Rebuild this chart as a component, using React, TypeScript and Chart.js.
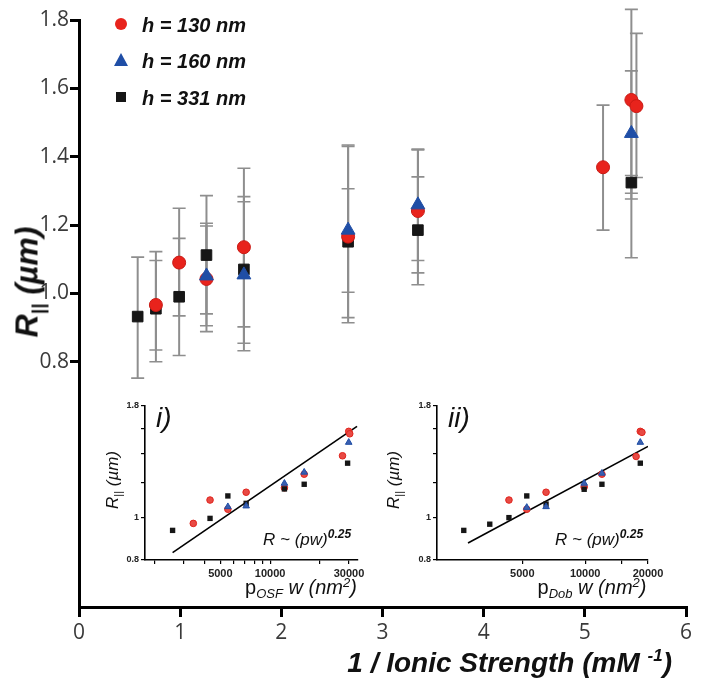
import React, { useEffect, useRef } from 'react';
import { Chart, registerables } from 'chart.js';
Chart.register(...registerables);

// ---------------- main panel data ----------------
const mainYTicks = [0.8, 1.0, 1.2, 1.4, 1.6, 1.8];

// h = 130 nm (red circles)
const x130 = [0.76, 0.99, 1.26, 1.63, 2.66, 3.35, 5.18, 5.46, 5.51];
const y130 = [0.966, 1.09, 1.042, 1.135, 1.166, 1.241, 1.369, 1.566, 1.548];
const hi130 = [1.122, 1.249, 1.197, 1.366, 1.306, 1.42, 1.551, 1.651, 1.761];
const lo130 = [0.8, 0.934, 0.888, 0.902, 1.003, 1.06, 1.185, 1.276, 1.339];

// h = 160 nm (blue triangles)
const x160 = [1.26, 1.63, 2.66, 3.35, 5.46];
const y160 = [1.051, 1.054, 1.185, 1.259, 1.468];
const hi160 = [1.205, 1.268, 1.434, 1.422, 1.831];
const lo160 = [0.905, 0.832, 0.929, 1.096, 1.104];

// h = 331 nm (black squares)
const x331 = [0.58, 0.76, 0.99, 1.26, 1.63, 2.66, 3.35, 5.46];
const y331 = [0.932, 0.955, 0.99, 1.112, 1.07, 1.151, 1.185, 1.324];
const hi331 = [1.106, 1.096, 1.161, 1.286, 1.283, 1.43, 1.341, 1.345];
const lo331 = [0.752, 0.834, 0.818, 0.94, 0.854, 0.914, 1.025, 1.293];

// ---------------- inset i) p_OSF w ----------------
const osfTicks = [2000, 3000, 4000, 5000, 6000, 7000, 8000, 9000, 10000, 20000, 30000];
const osfLabels = [5000, 10000, 30000];
const osfX130 = [3430, 4330, 5550, 7160, 12200, 16070, 27400, 29880, 30300];
const osfY130 = [0.97, 1.097, 1.045, 1.143, 1.17, 1.257, 1.385, 1.575, 1.555];
const osfX160 = [5550, 7160, 12200, 16070, 29880];
const osfY160 = [1.059, 1.063, 1.198, 1.27, 1.486];
const osfX331 = [2570, 4330, 5550, 7160, 12200, 16070, 29420];
const osfY331 = [0.935, 0.996, 1.121, 1.078, 1.163, 1.192, 1.332];
const osfFitX = [2570, 33540];
const osfFitY = [0.832, 1.617];

// ---------------- inset ii) p_Dob w ----------------
const dobTicks = [5000, 10000, 15000, 20000];
const dobLabels = [5000, 10000, 20000];
const dobX130 = [4313, 5250, 6495, 9890, 12030, 17540, 18370, 18700];
const dobY130 = [1.097, 1.045, 1.143, 1.175, 1.257, 1.38, 1.575, 1.567];
const dobX160 = [5250, 6495, 9890, 12030, 18370];
const dobY160 = [1.055, 1.059, 1.198, 1.263, 1.486];
const dobX331 = [2620, 3490, 4313, 5250, 6495, 9890, 12030, 18370];
const dobY331 = [0.935, 0.966, 1.0, 1.121, 1.074, 1.161, 1.192, 1.332];
const dobFitX = [2746, 20000];
const dobFitY = [0.875, 1.455];

const insetYTicks = [0.8, 1, 1.2, 1.4, 1.6, 1.8];
const insetYLabels = [0.8, 1, 1.8];

const RED = '#e8231c';
const BLUE = '#1f4ea6';
const BLACK = '#161616';
const SANS = '"Liberation Sans", Arial, sans-serif';

const pts = (xs: number[], ys: number[], lo?: number[], hi?: number[]) =>
  xs.map((x, i) => ({ x, y: ys[i], lo: lo ? lo[i] : undefined, hi: hi ? hi[i] : undefined }));

const errorBarPlugin = {
  id: 'errorBars',
  beforeDatasetsDraw(chart: any) {
    const { ctx, scales } = chart;
    const xs = scales.x, ys = scales.y;
    ctx.save();
    ctx.strokeStyle = '#8e8e8e';
    chart.data.datasets.forEach((ds: any) => {
      ds.data.forEach((p: any) => {
        if (p.lo === undefined) return;
        const px = xs.getPixelForValue(p.x);
        const pt = ys.getPixelForValue(p.hi);
        const pb = ys.getPixelForValue(p.lo);
        ctx.lineWidth = 2;
        ctx.beginPath();
        ctx.moveTo(px, pt);
        ctx.lineTo(px, pb);
        ctx.stroke();
        ctx.lineWidth = 1.6;
        ctx.beginPath();
        ctx.moveTo(px - 6.5, pt);
        ctx.lineTo(px + 6.5, pt);
        ctx.moveTo(px - 6.5, pb);
        ctx.lineTo(px + 6.5, pb);
        ctx.stroke();
      });
    });
    ctx.restore();
  },
};

function makeMain(): any {
  return {
    type: 'scatter',
    data: {
      datasets: [
        {
          label: 'h = 130 nm',
          data: pts(x130, y130, lo130, hi130),
          pointStyle: 'circle',
          pointRadius: 6.5,
          backgroundColor: RED,
          borderColor: '#c91a14',
          borderWidth: 1,
          order: 1,
        },
        {
          label: 'h = 160 nm',
          data: pts(x160, y160, lo160, hi160),
          pointStyle: 'triangle',
          pointRadius: 8,
          backgroundColor: BLUE,
          borderColor: BLUE,
          borderWidth: 1,
          order: 0,
        },
        {
          label: 'h = 331 nm',
          data: pts(x331, y331, lo331, hi331),
          pointStyle: 'rect',
          pointRadius: 7.5,
          backgroundColor: BLACK,
          borderColor: BLACK,
          borderWidth: 1,
          order: 2,
        },
      ],
    },
    options: {
      responsive: false,
      animation: false,
      layout: { padding: { left: 0, right: 17, top: 20, bottom: 0 } },
      plugins: { legend: { display: false }, tooltip: { enabled: false } },
      scales: {
        x: {
          type: 'linear',
          min: 0,
          max: 6,
          afterFit: (s: any) => { s.height = 87; },
          ticks: { stepSize: 1, color: '#3a3a3a', font: { family: '"Open Sans"', size: 21 }, padding: 3 },
          grid: { drawOnChartArea: false, drawTicks: true, tickLength: 10, color: '#000', lineWidth: 3 },
          border: { color: '#000', width: 3 },
        },
        y: {
          type: 'linear',
          min: 0.082,
          max: 1.8,
          afterFit: (s: any) => { s.width = 79; },
          afterBuildTicks: (a: any) => { a.ticks = mainYTicks.map((v) => ({ value: v })); },
          ticks: {
            color: '#3a3a3a',
            font: { family: '"Open Sans"', size: 21 },
            padding: 1,
            callback: (v: any) => Number(v).toFixed(1),
          },
          grid: { drawOnChartArea: false, drawTicks: true, tickLength: 9, color: '#000', lineWidth: 3 },
          border: { color: '#000', width: 3 },
        },
      },
    },
    plugins: [errorBarPlugin],
  };
}

function makeInset(
  xMin: number, xMax: number, xTicks: number[], xLabels: number[],
  d130: any[], d160: any[], d331: any[], fit: any[], padRight: number,
): any {
  return {
    type: 'scatter',
    data: {
      datasets: [
        {
          data: fit,
          showLine: true,
          pointRadius: 0,
          borderColor: '#000',
          borderWidth: 1.6,
          order: 3,
        },
        {
          data: d130,
          pointStyle: 'circle',
          pointRadius: 3.3,
          backgroundColor: '#e84a44',
          borderColor: '#e0231c',
          borderWidth: 1,
          order: 2,
        },
        {
          data: d331,
          pointStyle: 'rect',
          pointRadius: 3.8,
          backgroundColor: BLACK,
          borderColor: BLACK,
          borderWidth: 0,
          order: 1,
        },
        {
          data: d160,
          pointStyle: 'triangle',
          pointRadius: 3.8,
          backgroundColor: '#3a5fb0',
          borderColor: '#1f4ea6',
          borderWidth: 1,
          order: 0,
        },
      ],
    },
    options: {
      responsive: false,
      animation: false,
      layout: { padding: { left: 0, right: padRight, top: 10, bottom: 0 } },
      plugins: { legend: { display: false }, tooltip: { enabled: false } },
      scales: {
        x: {
          type: 'logarithmic',
          min: xMin,
          max: xMax,
          afterFit: (s: any) => { s.height = 26; },
          afterBuildTicks: (a: any) => { a.ticks = xTicks.map((v) => ({ value: v })); },
          ticks: {
            color: '#222',
            font: { family: SANS, size: 11, weight: 'bold' },
            padding: 3,
            maxRotation: 0,
            autoSkip: false,
            callback: (v: any) => (xLabels.includes(Number(v)) ? String(v) : ''),
          },
          grid: { drawOnChartArea: false, drawTicks: true, tickLength: 4, color: '#000', lineWidth: 1.2 },
          border: { color: '#000', width: 1.6 },
        },
        y: {
          type: 'logarithmic',
          min: 0.8,
          max: 1.8,
          afterFit: (s: any) => { s.width = 45; },
          afterBuildTicks: (a: any) => { a.ticks = insetYTicks.map((v) => ({ value: v })); },
          ticks: {
            color: '#222',
            font: { family: SANS, size: 9, weight: 'bold' },
            padding: 2,
            autoSkip: false,
            callback: (v: any) => (insetYLabels.includes(Number(v)) ? String(v) : ''),
          },
          grid: { drawOnChartArea: false, drawTicks: true, tickLength: 4, color: '#000', lineWidth: 1.2 },
          border: { color: '#000', width: 1.6 },
        },
      },
    },
  };
}

function ChartCanvas(props: { make: () => any; left: number; top: number; width: number; height: number }) {
  const ref = useRef<HTMLCanvasElement>(null);
  useEffect(() => {
    const chart = new Chart(ref.current as HTMLCanvasElement, props.make());
    return () => chart.destroy();
  }, []);
  return (
    <canvas
      ref={ref}
      width={props.width}
      height={props.height}
      style={{ position: 'absolute', left: props.left, top: props.top, width: props.width, height: props.height }}
    />
  );
}

const abs = (o: any) => ({ position: 'absolute' as const, whiteSpace: 'nowrap' as const, lineHeight: 1, ...o });

function LegendRow(props: { y: number; kind: string; label: string }) {
  let marker: any;
  if (props.kind === 'circle') {
    marker = <div style={abs({ left: 115, top: props.y - 6, width: 12, height: 12, borderRadius: '50%', background: RED })} />;
  } else if (props.kind === 'triangle') {
    marker = (
      <div
        style={abs({
          left: 114, top: props.y - 7, width: 0, height: 0,
          borderLeft: '7px solid transparent', borderRight: '7px solid transparent', borderBottom: '13px solid ' + BLUE,
        })}
      />
    );
  } else {
    marker = <div style={abs({ left: 116, top: props.y - 5, width: 10, height: 10, background: BLACK })} />;
  }
  return (
    <>
      {marker}
      <div style={abs({ left: 142, top: props.y - 10, font: `italic bold 20px ${SANS}`, color: '#111' })}>{props.label}</div>
    </>
  );
}

function InsetText(props: { ox: number; roman: string; sub: string; yTitleX: number; xTitleX: number }) {
  const { ox } = props;
  return (
    <>
      <div style={abs({ left: ox + 11, top: 402, font: `italic 28px ${SANS}`, color: '#111' })}>{props.roman}</div>
      <div style={abs({ left: ox + 118, top: 530, font: `italic 17px ${SANS}`, color: '#111' })}>
        R ~ (pw)<span style={{ fontSize: 12, fontWeight: 'bold', position: 'relative', top: -7 }}>0.25</span>
      </div>
      <div
        style={abs({
          left: props.yTitleX, top: 480, transform: 'translate(-50%,-50%) rotate(-90deg)',
          font: `italic 17px ${SANS}`, color: '#111',
        })}
      >
        R<span style={{ fontSize: 11, position: 'relative', top: 4, fontStyle: 'normal' }}>||</span> (µm)
      </div>
      <div
        style={abs({
          left: props.xTitleX, top: 587, transform: 'translate(-50%,-50%)',
          font: `20px ${SANS}`, color: '#111',
        })}
      >
        p<span style={{ fontSize: 13, fontStyle: 'italic', position: 'relative', top: 4 }}>{props.sub}</span>
        <span style={{ fontStyle: 'italic' }}> w (nm<span style={{ fontSize: 13, position: 'relative', top: -7 }}>2</span>)</span>
      </div>
    </>
  );
}

export default function App() {
  return (
    <div style={{ position: 'absolute', left: 0, top: 0, width: 703, height: 694, background: '#fff', overflow: 'hidden' }}>
      <ChartCanvas make={makeMain} left={0} top={0} width={703} height={694} />
      <ChartCanvas
        make={() => makeInset(1750, 34000, osfTicks, osfLabels,
          pts(osfX130, osfY130), pts(osfX160, osfY160), pts(osfX331, osfY331), pts(osfFitX, osfFitY), 12)}
        left={100} top={396} width={270} height={190}
      />
      <ChartCanvas
        make={() => makeInset(1950, 20000, dobTicks, dobLabels,
          pts(dobX130, dobY130), pts(dobX160, dobY160), pts(dobX331, dobY331), pts(dobFitX, dobFitY), 22)}
        left={392} top={396} width={278} height={190}
      />

      <LegendRow y={24} kind="circle" label="h = 130 nm" />
      <LegendRow y={60} kind="triangle" label="h = 160 nm" />
      <LegendRow y={97} kind="rect" label="h = 331 nm" />

      <InsetText ox={145} roman="i)" sub="OSF" yTitleX={113} xTitleX={301} />
      <InsetText ox={437} roman="ii)" sub="Dob" yTitleX={394} xTitleX={592} />

      <div
        style={abs({
          left: 27, top: 282, transform: 'translate(-50%,-50%) rotate(-90deg)',
          font: `italic bold 32px ${SANS}`, color: '#111',
        })}
      >
        R<span style={{ fontSize: 19, position: 'relative', top: 7 }}>||</span> (µm)
      </div>
      <div style={abs({ right: 31, top: 647, font: `italic bold 28px ${SANS}`, color: '#111' })}>
        1 / Ionic Strength (mM <span style={{ fontSize: 17, position: 'relative', top: -11 }}>-1</span>)
      </div>
    </div>
  );
}
